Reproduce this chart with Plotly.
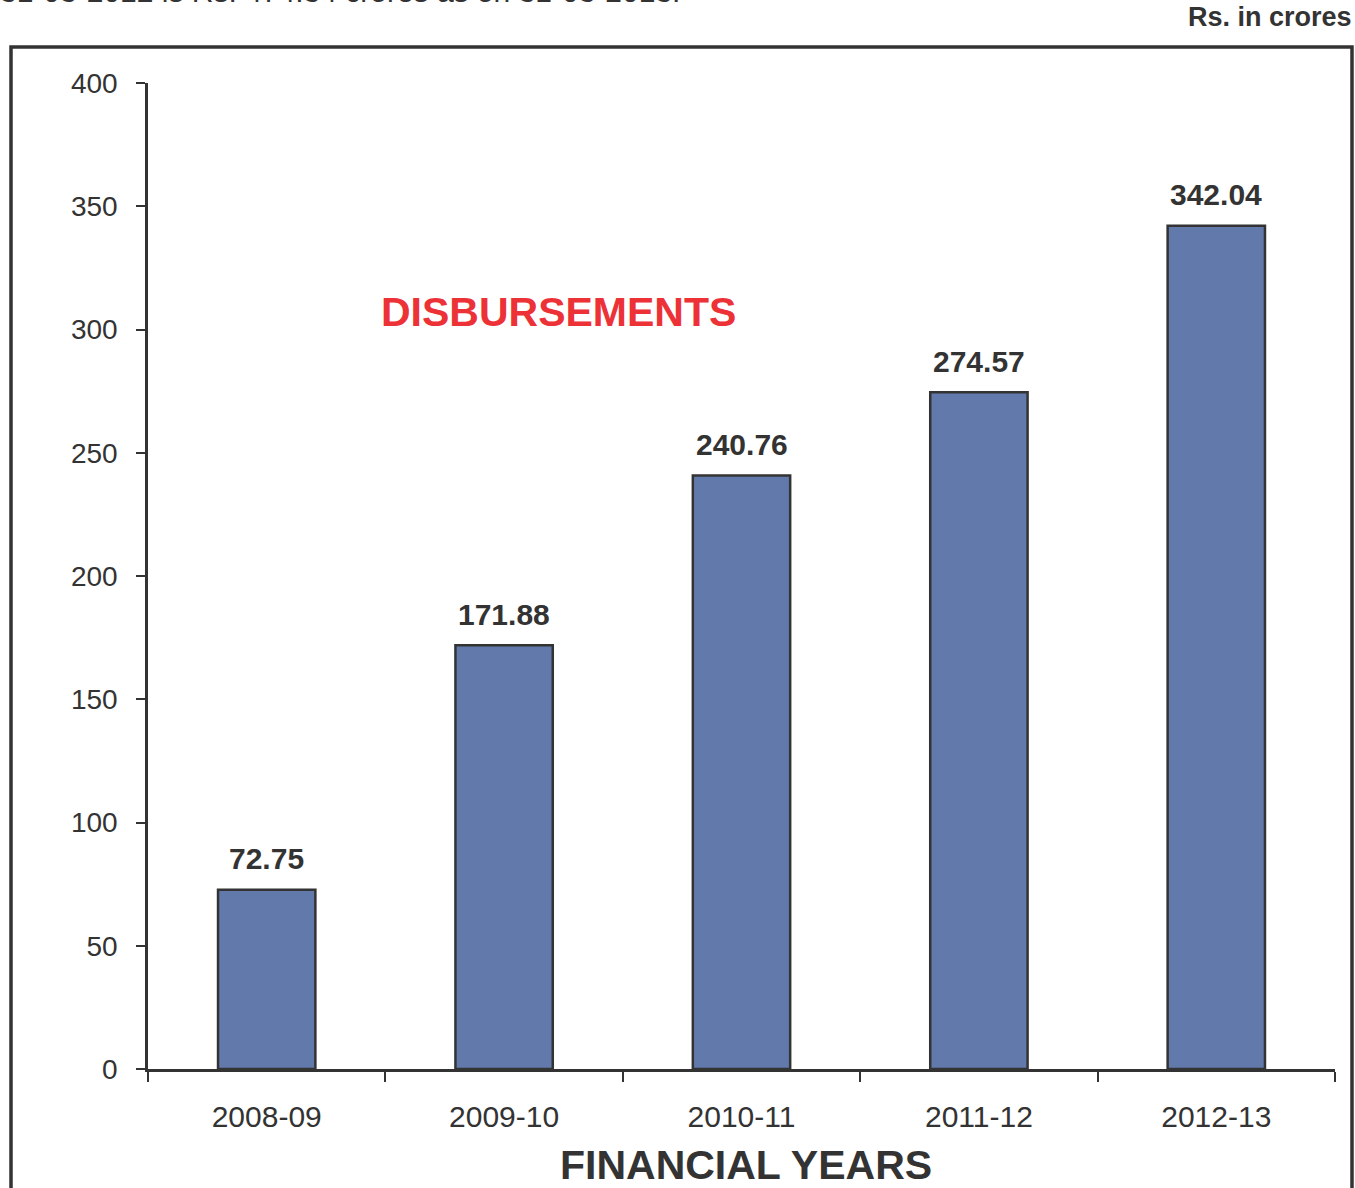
import plotly.graph_objects as go

years = ["2008-09", "2009-10", "2010-11", "2011-12", "2012-13"]
disbursements = [72.75, 171.88, 240.76, 274.57, 342.04]
y_ticks = [0, 50, 100, 150, 200, 250, 300, 350, 400]

W, H = 1355, 1188
L, R, T, B = 148, 20, 83, 119
pw, ph = W - L - R, H - T - B

def px(x):
    return (x - L) / pw

def py(y):
    return (H - B - y) / ph

dark = "#333333"
font = "Liberation Sans, Arial, sans-serif"

fig = go.Figure()
fig.add_trace(go.Bar(
    x=years, y=disbursements,
    width=0.41,
    marker=dict(color="#627aab", line=dict(color=dark, width=2.5)),
    showlegend=False,
    hoverinfo="x+y",
))

for yr, v in zip(years, disbursements):
    fig.add_annotation(
        x=yr, y=v, xref="x", yref="y", xanchor="center", yanchor="middle", yshift=31,
        text=f"<b>{v:.2f}</b>", showarrow=False,
        font=dict(family=font, size=30, color=dark),
    )

fig.update_layout(
    width=W, height=H,
    margin=dict(l=L, r=R, t=T, b=B),
    paper_bgcolor="white", plot_bgcolor="white",
    font=dict(family=font, color=dark),
    xaxis=dict(
        type="category", showline=True, linecolor=dark, linewidth=2.5,
        ticks="outside", tickson="boundaries", ticklen=10, tickwidth=2, tickcolor=dark,
        tickfont=dict(size=30, color=dark, family=font), showgrid=False,
        ticklabelstandoff=19,
    ),
    yaxis=dict(
        range=[0, 400], tickvals=y_ticks, showline=True, linecolor=dark, linewidth=2.5,
        ticks="outside", ticklen=9, tickwidth=2, tickcolor=dark,
        tickfont=dict(size=28, color=dark, family=font), showgrid=False, zeroline=False,
        ticklabelstandoff=13,
    ),
)

fig.add_annotation(
    x=px(746), y=py(1165), xref="paper", yref="paper", xanchor="center", yanchor="middle",
    text="<b>FINANCIAL YEARS</b>", showarrow=False,
    font=dict(size=41, color=dark, family=font),
)
fig.add_annotation(
    x=px(558), y=py(312), xref="paper", yref="paper", xanchor="center", yanchor="middle",
    text="<b>DISBURSEMENTS</b>", showarrow=False,
    font=dict(size=41, color="#ec3237", family=font),
)
fig.add_annotation(
    x=px(1354), y=py(17), xref="paper", yref="paper", xanchor="right", yanchor="middle",
    text="<b>Rs. in crores</b>", showarrow=False,
    font=dict(size=27, color=dark, family=font),
)
fig.add_annotation(
    x=px(-2), y=py(10), xref="paper", yref="paper", xanchor="left", yanchor="bottom",
    text="31-03-2012 is Rs. 474.34 crores as on 31-03-2013.", showarrow=False,
    font=dict(size=30, color=dark, family=font),
)

fig.add_shape(
    type="rect", xref="paper", yref="paper",
    x0=px(11), x1=px(1352), y0=py(1200), y1=py(47),
    line=dict(color=dark, width=3.5), fillcolor="rgba(0,0,0,0)", layer="below",
)

fig.write_html(
    "out.html",
    config={"displayModeBar": False},
    post_script="document.body.style.margin='0';document.body.style.overflow='hidden';",
)
